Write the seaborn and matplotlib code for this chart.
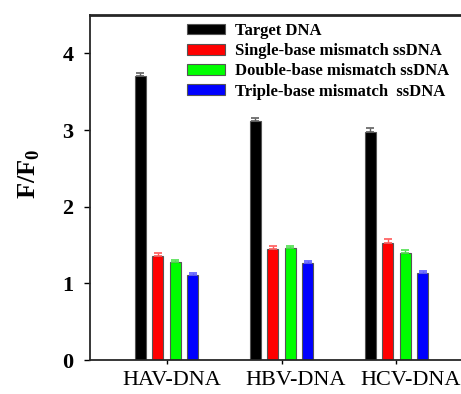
import pandas as pd
import matplotlib
matplotlib.use("Agg")
import matplotlib.pyplot as plt
import matplotlib.transforms as mtransforms
import numpy as np
import seaborn as sns

sns.set_style("ticks")
plt.rcParams["font.family"] = ["Liberation Serif", "DejaVu Serif"]
plt.rcParams["mathtext.fontset"] = "custom"
plt.rcParams["mathtext.rm"] = "Liberation Serif:bold"
plt.rcParams["mathtext.bf"] = "Liberation Serif:bold"
plt.rcParams["text.color"] = "black"
plt.rcParams["axes.labelcolor"] = "black"
plt.rcParams["xtick.color"] = "black"
plt.rcParams["ytick.color"] = "black"

targets = ["HAV-DNA", "HBV-DNA", "HCV-DNA"]
probes = ["Target DNA", "Single-base mismatch ssDNA",
          "Double-base mismatch ssDNA", "Triple-base mismatch  ssDNA"]

target_dna = [3.70, 3.12, 2.97]
single_mm = [1.36, 1.45, 1.53]
double_mm = [1.28, 1.46, 1.40]
triple_mm = [1.11, 1.26, 1.13]

target_err = [0.05, 0.035, 0.05]
single_err = [0.04, 0.035, 0.05]
double_err = [0.03, 0.025, 0.04]
triple_err = [0.03, 0.035, 0.025]

bar_colors = ["#000000", "#ff0000", "#00ff00", "#0000ff"]
cap_colors = ["#606060", "#ff5a5a", "#4ee04e", "#5a5aff"]

values = [target_dna, single_mm, double_mm, triple_mm]
errors = [target_err, single_err, double_err, triple_err]

rows = []
for p, vals, errs in zip(probes, values, errors):
    for t, v, e in zip(targets, vals, errs):
        rows.append({"target": t, "probe": p, "ff0": v, "err": e})
df = pd.DataFrame(rows)

fig = plt.figure(figsize=(4.61, 3.94), dpi=100)
ax = fig.add_axes([90 / 461, 1 - 360 / 394, (473 - 90) / 461, (360 - 15) / 394])

sns.barplot(data=df, x="target", y="ff0", hue="probe", order=targets,
            hue_order=probes, palette=bar_colors, width=0.61, gap=0.37,
            edgecolor="#555555", linewidth=0.8, errorbar=None, ax=ax,
            saturation=1)

# upward-only error bars at the bar centres
for cont, p, cc in zip(ax.containers, probes, cap_colors):
    sub = df[df["probe"] == p].set_index("target").loc[targets]
    xs = [b.get_x() + b.get_width() / 2 for b in cont]
    ax.errorbar(xs, sub["ff0"], yerr=[np.zeros(len(xs)), sub["err"]],
                fmt="none", ecolor=cc, elinewidth=1, capsize=2.6,
                capthick=1.2, zorder=1)

ax.set_xlim(-0.667, 2.667)
ax.set_ylim(0, 4.5)
ax.set_yticks([0, 1, 2, 3, 4])
ax.set_xlabel("")
ax.set_ylabel(r"F/F$_{\mathbf{0}}$", fontsize=19, fontweight="bold")
ax.yaxis.set_label_coords(-0.125, 0.54)

for lab in ax.get_yticklabels():
    lab.set_fontweight("bold")
ax.tick_params(axis="y", labelsize=16, length=4, width=1, pad=8)
ax.tick_params(axis="x", labelsize=16, length=3, width=1, pad=5)

# the category labels sit a little right of their ticks
shifts = [(5, 0), (14, 0), (14, 0)]
for lab, (dx, dy) in zip(ax.get_xticklabels(), shifts):
    lab.set_transform(lab.get_transform() +
                      mtransforms.ScaledTranslation(dx / 100, dy / 100, fig.dpi_scale_trans))

for s in ["left", "bottom"]:
    ax.spines[s].set_linewidth(1.3)
ax.spines["top"].set_linewidth(2)
ax.spines["right"].set_linewidth(2)

ax.legend(loc="upper left", bbox_to_anchor=(187 / 461, 1 - 23 / 394),
          bbox_transform=fig.transFigure, frameon=False,
          prop={"weight": "bold", "size": 12}, handlelength=2.3,
          handleheight=0.6, labelspacing=0.25, handletextpad=0.55,
          borderpad=0, borderaxespad=0)

fig.savefig("out.png", dpi=100)
